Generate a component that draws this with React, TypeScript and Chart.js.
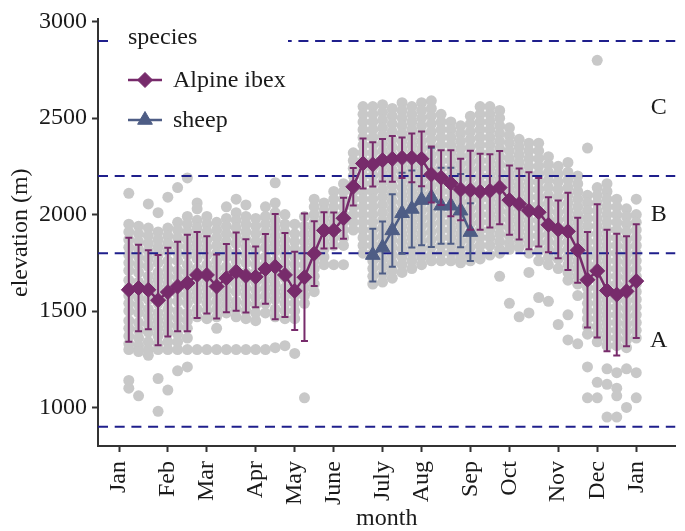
import { useEffect, useRef } from 'react';
import { Chart, registerables } from 'chart.js';

Chart.register(...registerables);

const FONT = "'Liberation Serif', 'Times New Roman', serif";

// ---- axis / tick data ----
const monthLabels = ['Jan', 'Feb', 'Mar', 'Apr', 'May', 'June', 'July', 'Aug', 'Sep', 'Oct', 'Nov', 'Dec', 'Jan'];
const monthTickWeeks = [0, 5, 9, 14, 18, 22, 27, 31, 36, 40, 45, 49, 53];
const yTicks = [1000, 1500, 2000, 2500, 3000];
const xMin = -2.157;
const xMax = 57.02;
const yMin = 800;
const yMax = 3012;

// ---- Alpine ibex weekly mean ± sd ----
const ibexWeeks = [1, 2, 3, 4, 5, 6, 7, 8, 9, 10, 11, 12, 13, 14, 15, 16, 17, 18, 19, 20, 21, 22, 23, 24, 25, 26, 27,
  28, 29, 30, 31, 32, 33, 34, 35, 36, 37, 38, 39, 40, 41, 42, 43, 44, 45, 46, 47, 48, 49, 50, 51, 52, 53];
const ibexMean = [1610, 1619, 1610, 1556, 1598, 1627, 1645, 1687, 1687, 1627, 1670, 1704, 1682, 1677, 1718, 1730,
  1687, 1604, 1675, 1798, 1918, 1918, 1981, 2144, 2265, 2260, 2282, 2289, 2294, 2294, 2289, 2208, 2191, 2162, 2130,
  2126, 2118, 2123, 2140, 2075, 2055, 2020, 2012, 1947, 1923, 1913, 1815, 1662, 1708, 1606, 1585, 1602, 1655];
const ibexSd = [270, 224, 205, 234, 230, 232, 250, 223, 200, 166, 177, 203, 190, 158, 181, 273, 218, 203, 330, 168,
  94, 93, 106, 97, 130, 115, 110, 119, 105, 126, 142, 145, 142, 171, 160, 205, 197, 190, 190, 180, 184, 200, 177,
  143, 150, 200, 168, 248, 346, 315, 316, 285, 295];

// ---- sheep weekly mean ± sd ----
const sheepWeeks = [26, 27, 28, 29, 30, 31, 32, 33, 34, 35, 36];
const sheepMean = [1790, 1829, 1918, 2007, 2029, 2075, 2089, 2046, 2046, 2020, 1909];
const sheepSd = [137, 135, 188, 210, 200, 234, 257, 197, 197, 190, 150];

// ---- individual observations (grey), one list per week 1..53 ----
const grayColumns: number[][] = [
  [2110, 1950, 1910, 1870, 1830, 1790, 1750, 1710, 1660, 1620, 1580, 1540, 1500, 1450, 1410, 1370, 1330, 1300, 1140, 1100],
  [1940, 1900, 1860, 1820, 1780, 1740, 1700, 1650, 1610, 1570, 1530, 1490, 1440, 1400, 1360, 1320, 1290, 1060],
  [2055, 1930, 1890, 1850, 1810, 1770, 1730, 1680, 1640, 1600, 1560, 1510, 1470, 1430, 1390, 1340, 1300, 1270],
  [2010, 1910, 1870, 1830, 1790, 1750, 1700, 1660, 1620, 1580, 1540, 1490, 1450, 1410, 1370, 1330, 1300, 1150, 980],
  [2090, 1930, 1890, 1850, 1810, 1760, 1720, 1680, 1640, 1600, 1550, 1510, 1470, 1430, 1390, 1340, 1300, 1090],
  [2140, 1960, 1920, 1880, 1840, 1800, 1760, 1710, 1670, 1630, 1590, 1550, 1500, 1460, 1420, 1380, 1340, 1300, 1190],
  [2190, 1990, 1950, 1910, 1870, 1830, 1790, 1740, 1700, 1660, 1620, 1580, 1540, 1490, 1450, 1410, 1360, 1300, 1210],
  [2060, 2030, 1970, 1930, 1890, 1850, 1810, 1770, 1720, 1680, 1640, 1600, 1560, 1510, 1470, 1300],
  [1990, 1950, 1910, 1870, 1830, 1790, 1740, 1700, 1660, 1620, 1580, 1540, 1500, 1460, 1300],
  [1960, 1920, 1880, 1840, 1800, 1760, 1720, 1680, 1630, 1590, 1550, 1510, 1470, 1410, 1300],
  [2040, 1980, 1940, 1900, 1860, 1820, 1780, 1730, 1690, 1650, 1610, 1570, 1530, 1490, 1300],
  [2080, 2010, 1970, 1930, 1890, 1850, 1800, 1760, 1720, 1680, 1640, 1600, 1550, 1510, 1470, 1300],
  [2050, 1990, 1950, 1910, 1870, 1830, 1790, 1750, 1700, 1660, 1620, 1580, 1540, 1500, 1460, 1300],
  [1980, 1940, 1900, 1860, 1820, 1780, 1740, 1700, 1650, 1610, 1570, 1530, 1490, 1450, 1300],
  [2040, 1990, 1950, 1910, 1870, 1830, 1780, 1740, 1700, 1660, 1620, 1580, 1540, 1490, 1300],
  [2165, 2060, 2010, 1970, 1930, 1890, 1850, 1810, 1760, 1720, 1680, 1640, 1600, 1560, 1510, 1470, 1310],
  [2000, 1950, 1910, 1870, 1830, 1790, 1750, 1710, 1670, 1620, 1580, 1540, 1500, 1460, 1320],
  [1950, 1900, 1860, 1820, 1780, 1740, 1700, 1660, 1620, 1580, 1540, 1500, 1460, 1280],
  [1990, 1940, 1900, 1860, 1820, 1780, 1740, 1700, 1660, 1620, 1580, 1540, 1050],
  [2080, 2040, 2000, 1960, 1920, 1880, 1840, 1800, 1760, 1720, 1680, 1640, 1600],
  [2060, 2020, 1980, 1940, 1900, 1860, 1820, 1780, 1740],
  [2120, 2080, 2040, 2000, 1960, 1920, 1880, 1840, 1740],
  [2160, 2120, 2080, 2040, 2000, 1960, 1920, 1880, 1840, 1740],
  [2320, 2280, 2240, 2200, 2160, 2120, 2080, 2040, 2000, 1960, 1920],
  [2560, 2520, 2480, 2440, 2400, 2360, 2320, 2280, 2240, 2200, 2160, 2120, 2080, 2040, 2000, 1960, 1920, 1880, 1840, 1800],
  [2560, 2520, 2480, 2440, 2400, 2360, 2320, 2280, 2240, 2200, 2160, 2120, 2080, 2040, 2000, 1960, 1920, 1880, 1840, 1800, 1760, 1720, 1680, 1640],
  [2570, 2530, 2490, 2450, 2410, 2370, 2330, 2290, 2250, 2210, 2170, 2130, 2090, 2050, 2010, 1970, 1930, 1890, 1850, 1810, 1770, 1730, 1690, 1650],
  [2550, 2510, 2470, 2430, 2390, 2350, 2310, 2270, 2230, 2190, 2150, 2110, 2070, 2030, 1990, 1950, 1910, 1870, 1830, 1790, 1750, 1710, 1670],
  [2580, 2540, 2500, 2460, 2420, 2380, 2340, 2300, 2260, 2220, 2180, 2140, 2100, 2060, 2020, 1980, 1940, 1900, 1860, 1820, 1780, 1740, 1700],
  [2560, 2520, 2480, 2440, 2400, 2360, 2320, 2280, 2240, 2200, 2160, 2120, 2080, 2040, 2000, 1960, 1920, 1880, 1840, 1800, 1760, 1720],
  [2580, 2540, 2500, 2460, 2420, 2380, 2340, 2300, 2260, 2220, 2180, 2140, 2100, 2060, 2020, 1980, 1940, 1900, 1860, 1820, 1780, 1740],
  [2590, 2550, 2510, 2470, 2430, 2390, 2350, 2310, 2270, 2230, 2190, 2150, 2110, 2070, 2030, 1990, 1950, 1910, 1870, 1830, 1790, 1760],
  [2520, 2480, 2440, 2400, 2360, 2320, 2280, 2240, 2200, 2160, 2120, 2080, 2040, 2000, 1960, 1920, 1880, 1840, 1800, 1760],
  [2480, 2440, 2400, 2360, 2320, 2280, 2240, 2200, 2160, 2120, 2080, 2040, 2000, 1960, 1920, 1880, 1840, 1800, 1760],
  [2460, 2420, 2380, 2340, 2300, 2260, 2220, 2180, 2140, 2100, 2060, 2020, 1980, 1940, 1900, 1860, 1820, 1780, 1750],
  [2510, 2470, 2430, 2390, 2350, 2310, 2270, 2230, 2190, 2150, 2110, 2070, 2030, 1990, 1950, 1910, 1870, 1830, 1790, 1760],
  [2560, 2520, 2480, 2440, 2400, 2360, 2320, 2280, 2240, 2200, 2160, 2120, 2080, 2040, 2000, 1960, 1920, 1880, 1840, 1800, 1770],
  [2560, 2520, 2480, 2440, 2400, 2360, 2320, 2280, 2240, 2200, 2160, 2120, 2080, 2040, 2000, 1960, 1920, 1880, 1840, 1790],
  [2540, 2500, 2460, 2420, 2380, 2340, 2300, 2260, 2220, 2180, 2140, 2100, 2060, 2020, 1980, 1940, 1900, 1860, 1820, 1800, 1680],
  [2450, 2410, 2370, 2330, 2290, 2250, 2210, 2170, 2130, 2090, 2050, 2010, 1970, 1930, 1890, 1850, 1820, 1540],
  [2390, 2350, 2310, 2270, 2230, 2190, 2150, 2110, 2070, 2030, 1990, 1950, 1910, 1870, 1830, 1470],
  [2370, 2330, 2290, 2250, 2210, 2170, 2130, 2090, 2050, 2010, 1970, 1930, 1890, 1850, 1800, 1700, 1490],
  [2370, 2330, 2290, 2250, 2210, 2170, 2130, 2090, 2050, 2010, 1970, 1930, 1890, 1850, 1810, 1760, 1570],
  [2300, 2260, 2220, 2180, 2140, 2100, 2060, 2020, 1980, 1940, 1900, 1860, 1820, 1780, 1740, 1550],
  [2250, 2210, 2170, 2130, 2090, 2050, 2010, 1970, 1930, 1890, 1850, 1810, 1770, 1720, 1430],
  [2270, 2220, 2180, 2140, 2100, 2060, 2020, 1980, 1940, 1900, 1860, 1820, 1780, 1740, 1700, 1660, 1480, 1350],
  [2200, 2160, 2120, 2080, 2040, 2000, 1960, 1920, 1880, 1840, 1800, 1760, 1720, 1680, 1640, 1580, 1330],
  [2345, 2100, 2060, 2020, 1980, 1940, 1900, 1860, 1820, 1780, 1740, 1700, 1660, 1620, 1580, 1540, 1500, 1460, 1420, 1380, 1210, 1050],
  [2800, 2140, 2100, 2060, 2020, 1980, 1940, 1900, 1860, 1820, 1780, 1740, 1700, 1660, 1620, 1580, 1540, 1500, 1460, 1420, 1380, 1340, 1130, 1050],
  [2160, 2120, 2080, 2040, 2000, 1960, 1920, 1880, 1840, 1800, 1760, 1720, 1680, 1640, 1600, 1560, 1520, 1480, 1440, 1400, 1360, 1320, 1200, 1120, 950],
  [2080, 2040, 2000, 1960, 1920, 1880, 1840, 1800, 1760, 1720, 1680, 1640, 1600, 1560, 1520, 1480, 1440, 1400, 1360, 1320, 1180, 1100, 1060, 950],
  [2030, 1990, 1950, 1910, 1870, 1830, 1790, 1750, 1710, 1670, 1630, 1590, 1550, 1510, 1470, 1430, 1390, 1350, 1310, 1200, 1000],
  [2080, 2000, 1960, 1920, 1880, 1840, 1800, 1760, 1720, 1680, 1640, 1600, 1560, 1520, 1480, 1440, 1400, 1360, 1180, 1050],
];

// ---- zone boundaries and labels ----
const zoneLines = [900, 1800, 2200, 2900];
const zoneLabels = ['A', 'B', 'C'];
const zoneLabelY = [1345, 2000, 2555];
const zoneLabelWeek = 55.3;

const legendTitle = 'species';
const ibexName = 'Alpine ibex';
const sheepName = 'sheep';

const IBEX = '#772b6b';
const SHEEP = '#4e5d85';
const NAVY = '#1f1f8c';
const GREY = '#c8c8c8';
const AXIS = '#333333';
const TEXT = '#1a1a1a';

function drawMarker(ctx: CanvasRenderingContext2D, style: string, x: number, y: number, r: number) {
  ctx.beginPath();
  if (style === 'rectRot') {
    ctx.moveTo(x, y - r);
    ctx.lineTo(x + r, y);
    ctx.lineTo(x, y + r);
    ctx.lineTo(x - r, y);
  } else {
    ctx.moveTo(x, y - r);
    ctx.lineTo(x + r * Math.sin((2 * Math.PI) / 3), y - r * Math.cos((2 * Math.PI) / 3));
    ctx.lineTo(x + r * Math.sin((4 * Math.PI) / 3), y - r * Math.cos((4 * Math.PI) / 3));
  }
  ctx.closePath();
  ctx.fill();
  ctx.stroke();
}

const errorBarPlugin = {
  id: 'errorBars',
  beforeDatasetDraw(chart: any, args: any) {
    const ds = chart.data.datasets[args.index];
    if (!ds.errorMean) return;
    const meta = chart.getDatasetMeta(args.index);
    const ys = chart.scales.y;
    const ctx = chart.ctx;
    ctx.save();
    ctx.strokeStyle = ds.borderColor;
    ctx.lineWidth = 2;
    meta.data.forEach((pt: any, j: number) => {
      const m = ds.errorMean[j];
      const s = ds.errorSd[j];
      const yt = ys.getPixelForValue(m + s);
      const yb = ys.getPixelForValue(m - s);
      const x = pt.x;
      ctx.beginPath();
      ctx.moveTo(x, yt);
      ctx.lineTo(x, yb);
      ctx.moveTo(x - 3.5, yt);
      ctx.lineTo(x + 3.5, yt);
      ctx.moveTo(x - 3.5, yb);
      ctx.lineTo(x + 3.5, yb);
      ctx.stroke();
    });
    ctx.restore();
  },
};

const annotationPlugin = {
  id: 'annotations',
  afterDatasetsDraw(chart: any) {
    const ctx = chart.ctx;
    const xs = chart.scales.x;
    const ys = chart.scales.y;
    ctx.save();
    ctx.font = `24px ${FONT}`;
    ctx.fillStyle = TEXT;
    ctx.textAlign = 'center';
    ctx.textBaseline = 'middle';
    zoneLabels.forEach((t, i) => {
      ctx.fillText(t, xs.getPixelForValue(zoneLabelWeek), ys.getPixelForValue(zoneLabelY[i]));
    });
    ctx.fillStyle = '#ffffff';
    ctx.fillRect(108, 20, 180, 125);
    ctx.fillStyle = TEXT;
    ctx.textAlign = 'left';
    ctx.fillText(legendTitle, 128, 38);
    const items = [
      { name: ibexName, color: IBEX, style: 'rectRot', r: 7.5, y: 80 },
      { name: sheepName, color: SHEEP, style: 'triangle', r: 8.5, y: 120 },
    ];
    items.forEach((it) => {
      ctx.strokeStyle = it.color;
      ctx.lineWidth = 2.5;
      ctx.beginPath();
      ctx.moveTo(128, it.y);
      ctx.lineTo(162, it.y);
      ctx.stroke();
      ctx.fillStyle = it.color;
      ctx.lineWidth = 1;
      drawMarker(ctx, it.style, 145, it.y, it.r);
      ctx.fillStyle = TEXT;
      ctx.fillText(it.name, 173, it.y + 1);
    });
    ctx.restore();
  },
};

export default function App() {
  const ref = useRef<HTMLCanvasElement | null>(null);

  useEffect(() => {
    if (!ref.current) return;
    const grayPoints: { x: number; y: number }[] = [];
    grayColumns.forEach((col, i) => col.forEach((v) => grayPoints.push({ x: ibexWeeks[i], y: v })));

    const lineSets = zoneLines.map((v) => ({
      type: 'scatter',
      data: [{ x: xMin, y: v }, { x: xMax, y: v }],
      showLine: true,
      borderColor: NAVY,
      borderWidth: 2,
      borderDash: [10, 6.7],
      pointRadius: 0,
      order: 3,
    }));

    const tickFont = { family: FONT, size: 24 };

    const chart = new Chart(ref.current, {
      type: 'scatter',
      data: {
        datasets: [
          {
            data: grayPoints,
            pointRadius: 5.5,
            pointHoverRadius: 5.5,
            backgroundColor: GREY,
            borderWidth: 0,
            order: 4,
          } as any,
          ...(lineSets as any),
          {
            data: sheepWeeks.map((w, i) => ({ x: w, y: sheepMean[i] })),
            showLine: true,
            borderColor: SHEEP,
            backgroundColor: SHEEP,
            borderWidth: 2.5,
            pointStyle: 'triangle',
            pointRadius: 8.5,
            pointBorderWidth: 1,
            errorMean: sheepMean,
            errorSd: sheepSd,
            order: 2,
          } as any,
          {
            data: ibexWeeks.map((w, i) => ({ x: w, y: ibexMean[i] })),
            showLine: true,
            borderColor: IBEX,
            backgroundColor: IBEX,
            borderWidth: 2.5,
            pointStyle: 'rectRot',
            pointRadius: 7.5,
            pointBorderWidth: 1,
            errorMean: ibexMean,
            errorSd: ibexSd,
            order: 1,
          } as any,
        ],
      },
      options: {
        animation: false,
        responsive: false,
        devicePixelRatio: 1,
        events: [],
        layout: { padding: { top: 15, right: 0, bottom: 0, left: 0 } },
        plugins: { legend: { display: false }, tooltip: { enabled: false } },
        scales: {
          x: {
            type: 'linear',
            min: xMin,
            max: xMax,
            afterBuildTicks: (s: any) => {
              s.ticks = monthTickWeeks.map((v) => ({ value: v }));
            },
            afterFit: (s: any) => {
              s.height = 85;
            },
            ticks: {
              autoSkip: false,
              minRotation: 90,
              maxRotation: 90,
              padding: 9,
              color: TEXT,
              font: tickFont,
              callback: (_v: any, i: number) => monthLabels[i],
            },
            grid: { drawOnChartArea: false, drawTicks: true, tickLength: 6, tickColor: AXIS, tickWidth: 2 },
            border: { display: true, color: AXIS, width: 2 },
            title: { display: true, text: 'month', color: TEXT, font: tickFont, padding: { top: 0, bottom: -2 } },
          },
          y: {
            type: 'linear',
            min: yMin,
            max: yMax,
            afterBuildTicks: (s: any) => {
              s.ticks = yTicks.map((v) => ({ value: v }));
            },
            afterFit: (s: any) => {
              s.width = 98;
            },
            ticks: { padding: 5, color: TEXT, font: tickFont, callback: (v: any) => String(v) },
            grid: { drawOnChartArea: false, drawTicks: true, tickLength: 6, tickColor: AXIS, tickWidth: 2 },
            border: { display: true, color: AXIS, width: 2 },
            title: { display: true, text: 'elevation (m)', color: TEXT, font: tickFont, padding: { top: 6, bottom: 0 } },
          },
        },
      } as any,
      plugins: [errorBarPlugin, annotationPlugin],
    });
    return () => chart.destroy();
  }, []);

  return (
    <div style={{ position: 'fixed', left: 0, top: 0, width: 685, height: 531, background: '#fff' }}>
      <canvas ref={ref} width={685} height={531} style={{ display: 'block', width: 685, height: 531 }} />
    </div>
  );
}
